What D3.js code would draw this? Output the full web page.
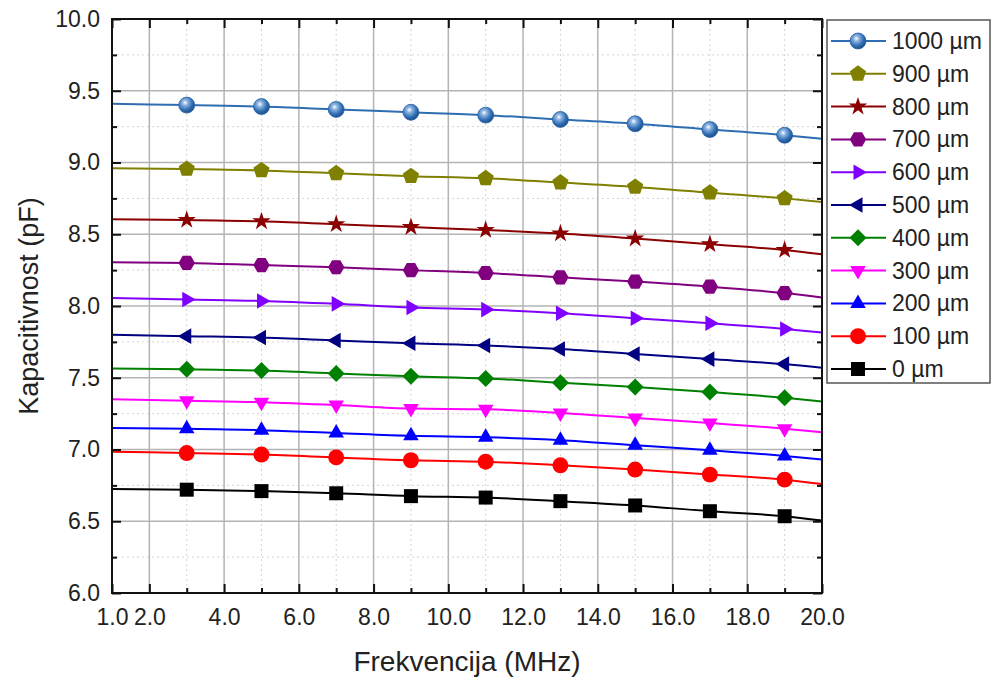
<!DOCTYPE html>
<html>
<head>
<meta charset="utf-8">
<script src="https://cdn.jsdelivr.net/npm/d3@7"></script>
<style>
  body { margin: 0; background: #fff; }
  text { font-family: "Liberation Sans", Arial, sans-serif; fill: #222; }
</style>
</head>
<body>
<svg id="chart" width="992" height="679"></svg>
<script>
// frequencies (MHz) at which values were read; markers sit on the inner ones
var freq = [1, 3, 5, 7, 9, 11, 13, 15, 17, 19, 20];

var labels = ["1000 \u00b5m", "900 \u00b5m", "800 \u00b5m", "700 \u00b5m", "600 \u00b5m",
              "500 \u00b5m", "400 \u00b5m", "300 \u00b5m", "200 \u00b5m", "100 \u00b5m", "0 \u00b5m"];

var c1000 = [9.41, 9.40, 9.39, 9.37, 9.35, 9.33, 9.30, 9.27, 9.23, 9.19, 9.165];
var c900  = [8.96, 8.955, 8.945, 8.925, 8.905, 8.89, 8.86, 8.83, 8.79, 8.75, 8.725];
var c800  = [8.605, 8.60, 8.59, 8.57, 8.55, 8.53, 8.505, 8.47, 8.43, 8.39, 8.36];
var c700  = [8.305, 8.30, 8.285, 8.27, 8.25, 8.23, 8.20, 8.17, 8.135, 8.09, 8.06];
var c600  = [8.055, 8.045, 8.035, 8.015, 7.99, 7.975, 7.95, 7.915, 7.88, 7.84, 7.815];
var c500  = [7.80, 7.79, 7.78, 7.76, 7.74, 7.725, 7.70, 7.665, 7.63, 7.595, 7.57];
var c400  = [7.565, 7.56, 7.55, 7.53, 7.51, 7.495, 7.465, 7.435, 7.40, 7.36, 7.335];
var c300  = [7.35, 7.34, 7.33, 7.31, 7.285, 7.28, 7.255, 7.22, 7.185, 7.145, 7.12];
var c200  = [7.15, 7.145, 7.135, 7.115, 7.095, 7.085, 7.065, 7.03, 6.995, 6.955, 6.93];
var c100  = [6.985, 6.975, 6.965, 6.945, 6.925, 6.915, 6.89, 6.86, 6.825, 6.79, 6.76];
var c0    = [6.725, 6.72, 6.71, 6.695, 6.675, 6.665, 6.64, 6.61, 6.57, 6.535, 6.505];

var xTickVals = [1, 2, 4, 6, 8, 10, 12, 14, 16, 18, 20];
var xMinorVals = [3, 5, 7, 9, 11, 13, 15, 17, 19];
var yTickVals = [6.0, 6.5, 7.0, 7.5, 8.0, 8.5, 9.0, 9.5, 10.0];
var yMinorVals = [6.25, 6.75, 7.25, 7.75, 8.25, 8.75, 9.25, 9.75];

var series = [c1000, c900, c800, c700, c600, c500, c400, c300, c200, c100, c0];

// look of each series: colour and marker shape
var styles = [
  {color: "#2f6db3", shape: "ball"},
  {color: "#808000", shape: "pentagon"},
  {color: "#8b0000", shape: "star"},
  {color: "#800080", shape: "hexagon"},
  {color: "#8000ff", shape: "right"},
  {color: "#000080", shape: "left"},
  {color: "#008000", shape: "diamond"},
  {color: "#ff00ff", shape: "down"},
  {color: "#0000ff", shape: "up"},
  {color: "#ff0000", shape: "circle"},
  {color: "#000000", shape: "square"}
];

var svg = d3.select("#chart");
var margin = {left: 112, top: 19, right: 822, bottom: 593};

var x = d3.scaleLinear().domain([1, 20]).range([margin.left, margin.right]);
var y = d3.scaleLinear().domain([6, 10]).range([margin.bottom, margin.top]);

// radial gradient for the 1000 um ball marker
var defs = svg.append("defs");
var grad = defs.append("radialGradient").attr("id", "ball")
    .attr("cx", "40%").attr("cy", "35%").attr("r", "65%");
grad.append("stop").attr("offset", "0%").attr("stop-color", "#ffffff");
grad.append("stop").attr("offset", "25%").attr("stop-color", "#8fb6e3");
grad.append("stop").attr("offset", "70%").attr("stop-color", "#2f6db3");
grad.append("stop").attr("offset", "100%").attr("stop-color", "#1d4f8c");

function polygon(n, r, rot) {
  var pts = [];
  for (var i = 0; i < n; i++) {
    var a = rot + i * 2 * Math.PI / n;
    pts.push([r * Math.cos(a), r * Math.sin(a)]);
  }
  return "M" + pts.map(function (p) { return p[0].toFixed(2) + "," + p[1].toFixed(2); }).join("L") + "Z";
}

function markerPath(shape) {
  switch (shape) {
    case "pentagon": return polygon(5, 8.5, -Math.PI / 2);
    case "star": return d3.symbol().type(d3.symbolStar).size(105)();
    case "hexagon": return polygon(6, 8.2, 0);
    case "right": return polygon(3, 9, 0);
    case "left": return polygon(3, 9, Math.PI);
    case "down": return polygon(3, 9, Math.PI / 2);
    case "up": return polygon(3, 9, -Math.PI / 2);
    case "diamond": return polygon(4, 8.5, 0);
    case "square": return "M-7,-7L7,-7L7,7L-7,7Z";
    default: return d3.symbol().type(d3.symbolCircle).size(200)();
  }
}

// grid
var grid = svg.append("g");
grid.selectAll(".gxm").data(xMinorVals).enter().append("line")
    .attr("x1", function (d) { return x(d); }).attr("x2", function (d) { return x(d); })
    .attr("y1", margin.top).attr("y2", margin.bottom)
    .attr("stroke", "#d4d4d4").attr("stroke-width", 1).attr("stroke-dasharray", "2,3");
grid.selectAll(".gym").data(yMinorVals).enter().append("line")
    .attr("y1", function (d) { return y(d); }).attr("y2", function (d) { return y(d); })
    .attr("x1", margin.left).attr("x2", margin.right)
    .attr("stroke", "#d4d4d4").attr("stroke-width", 1).attr("stroke-dasharray", "2,3");
grid.selectAll(".gx").data(xTickVals.slice(1, -1)).enter().append("line")
    .attr("x1", function (d) { return x(d); }).attr("x2", function (d) { return x(d); })
    .attr("y1", margin.top).attr("y2", margin.bottom)
    .attr("stroke", "#b4b4b4").attr("stroke-width", 1.5);
grid.selectAll(".gy").data(yTickVals.slice(1, -1)).enter().append("line")
    .attr("y1", function (d) { return y(d); }).attr("y2", function (d) { return y(d); })
    .attr("x1", margin.left).attr("x2", margin.right)
    .attr("stroke", "#b4b4b4").attr("stroke-width", 1.5);

// series lines and markers
var line = d3.line()
    .x(function (d, i) { return x(freq[i]); })
    .y(function (d) { return y(d); })
    .curve(d3.curveMonotoneX);

series.forEach(function (vals, s) {
  var st = styles[s];
  svg.append("path").datum(vals)
      .attr("d", line)
      .attr("fill", "none")
      .attr("stroke", st.color)
      .attr("stroke-width", 2);
  svg.append("g").selectAll("path")
      .data(vals.slice(1, -1))
      .enter().append("path")
      .attr("transform", function (d, i) { return "translate(" + x(freq[i + 1]) + "," + y(d) + ")"; })
      .attr("d", markerPath(st.shape))
      .attr("fill", st.shape === "ball" ? "url(#ball)" : st.color)
      .attr("stroke", st.shape === "ball" ? "#2a62a3" : "none")
      .attr("stroke-width", 0.8);
});

// axes (ticks inward on all four sides)
var ax = svg.append("g");
var bottom = ax.append("g").attr("transform", "translate(0," + margin.bottom + ")")
    .call(d3.axisBottom(x).tickValues(xTickVals).tickSize(-9).tickPadding(16)
          .tickFormat(d3.format(".1f")));
bottom.selectAll(".tick line").attr("stroke", "#111").attr("stroke-width", 2);
ax.append("g").attr("transform", "translate(0," + margin.bottom + ")")
    .call(d3.axisBottom(x).tickValues(xMinorVals).tickSize(-5).tickFormat(""))
    .selectAll(".tick line").attr("stroke", "#111").attr("stroke-width", 2);
ax.append("g").attr("transform", "translate(0," + margin.top + ")")
    .call(d3.axisTop(x).tickValues(xTickVals).tickSize(-9).tickFormat(""))
    .selectAll(".tick line").attr("stroke", "#111").attr("stroke-width", 2);
ax.append("g").attr("transform", "translate(0," + margin.top + ")")
    .call(d3.axisTop(x).tickValues(xMinorVals).tickSize(-5).tickFormat(""))
    .selectAll(".tick line").attr("stroke", "#111").attr("stroke-width", 2);

var left = ax.append("g").attr("transform", "translate(" + margin.left + ",0)")
    .call(d3.axisLeft(y).tickValues(yTickVals).tickSize(-9).tickPadding(12)
          .tickFormat(d3.format(".1f")));
left.selectAll(".tick line").attr("stroke", "#111").attr("stroke-width", 2);
ax.append("g").attr("transform", "translate(" + margin.left + ",0)")
    .call(d3.axisLeft(y).tickValues(yMinorVals).tickSize(-5).tickFormat(""))
    .selectAll(".tick line").attr("stroke", "#111").attr("stroke-width", 2);
ax.append("g").attr("transform", "translate(" + margin.right + ",0)")
    .call(d3.axisRight(y).tickValues(yTickVals).tickSize(-9).tickFormat(""))
    .selectAll(".tick line").attr("stroke", "#111").attr("stroke-width", 2);
ax.append("g").attr("transform", "translate(" + margin.right + ",0)")
    .call(d3.axisRight(y).tickValues(yMinorVals).tickSize(-5).tickFormat(""))
    .selectAll(".tick line").attr("stroke", "#111").attr("stroke-width", 2);

ax.selectAll(".domain").remove();
ax.selectAll(".tick text").attr("font-size", 23)
    .attr("font-family", "'Liberation Sans', Arial, sans-serif").attr("fill", "#222");

svg.append("rect")
    .attr("x", margin.left).attr("y", margin.top)
    .attr("width", margin.right - margin.left).attr("height", margin.bottom - margin.top)
    .attr("fill", "none").attr("stroke", "#111").attr("stroke-width", 2);

// axis titles
svg.append("text").attr("x", 467).attr("y", 671)
    .attr("text-anchor", "middle").attr("font-size", 28).text("Frekvencija (MHz)");
svg.append("text")
    .attr("transform", "translate(38," + (margin.top + margin.bottom) / 2 + ") rotate(-90)")
    .attr("text-anchor", "middle").attr("font-size", 27).text("Kapacitivnost (pF)");

// legend
var legend = svg.append("g");
legend.append("rect").attr("x", 827).attr("y", 20).attr("width", 163).attr("height", 363)
    .attr("fill", "#fff").attr("stroke", "#555").attr("stroke-width", 1.5);
var item = legend.selectAll(".item").data(labels).enter().append("g")
    .attr("transform", function (d, i) { return "translate(0," + (41 + i * 32.8) + ")"; });
item.append("line").attr("x1", 831).attr("x2", 886).attr("y1", 0).attr("y2", 0)
    .attr("stroke", function (d, i) { return styles[i].color; }).attr("stroke-width", 2);
item.append("path")
    .attr("transform", "translate(858,0)")
    .attr("d", function (d, i) { return markerPath(styles[i].shape); })
    .attr("fill", function (d, i) { return styles[i].shape === "ball" ? "url(#ball)" : styles[i].color; })
    .attr("stroke", function (d, i) { return styles[i].shape === "ball" ? "#2a62a3" : "none"; })
    .attr("stroke-width", 0.8);
item.append("text").attr("x", 892).attr("y", 8).attr("font-size", 23)
    .text(function (d) { return d; });
</script>
</body>
</html>
